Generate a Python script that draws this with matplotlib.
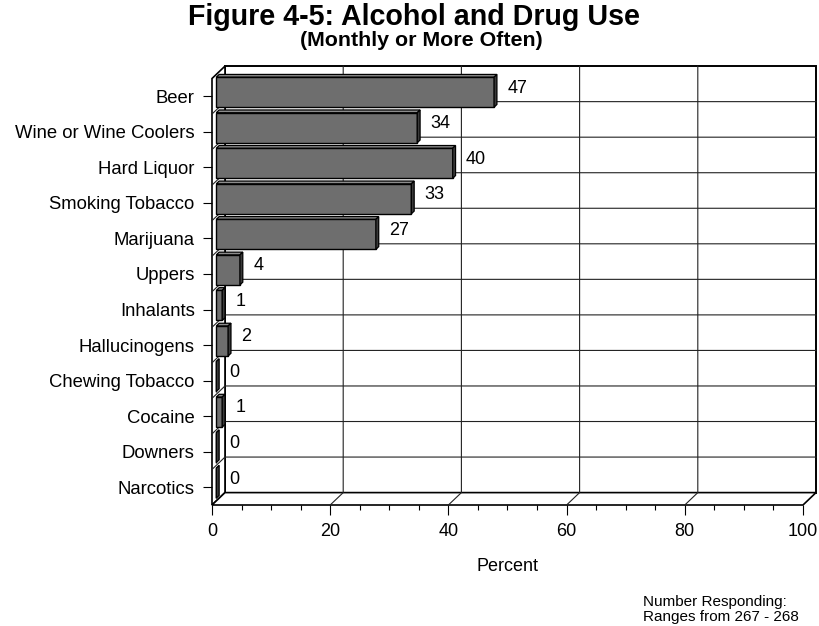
import matplotlib
matplotlib.use("Agg")
import matplotlib.pyplot as plt
from matplotlib.patches import Polygon
from matplotlib.ticker import MultipleLocator

plt.rcParams["font.family"] = ["Liberation Sans", "DejaVu Sans"]

# ---- data -------------------------------------------------------------
categories = ["Beer", "Wine or Wine Coolers", "Hard Liquor", "Smoking Tobacco",
              "Marijuana", "Uppers", "Inhalants", "Hallucinogens",
              "Chewing Tobacco", "Cocaine", "Downers", "Narcotics"]
percent = [47, 34, 40, 33, 27, 4, 1, 2, 0, 1, 0, 0]
x_ticks = [0, 20, 40, 60, 80, 100]

title = "Figure 4-5: Alcohol and Drug Use"
subtitle = "(Monthly or More Often)"
note = "Number Responding:\nRanges from 267 - 268"

# ---- figure / front plane of the 3-D box ------------------------------
FW, FH = 820, 626
fig = plt.figure(figsize=(FW / 100, FH / 100), dpi=100)
ax_l, ax_b, ax_w, ax_h = 212, 121, 591, 426.5          # pixels
ax = fig.add_axes([ax_l / FW, ax_b / FH, ax_w / FW, ax_h / FH])

n = len(categories)
xmax = x_ticks[-1]
ax.set_xlim(0, xmax)
ax.set_ylim(n - 0.5, -0.5)
y_top, y_bot = -0.5, n - 0.5

# oblique depth offset (pixels right / up) converted to data units
depth_px = (13.0, 12.4)
ddx = depth_px[0] / (ax_w / xmax)
ddy = -depth_px[1] / (ax_h / n)


def P(x, y, d):
    return (x + d * ddx, y + d * ddy)


def poly(pts, fc, ec="black", lw=1.0, z=1):
    ax.add_patch(Polygon(pts, closed=True, facecolor=fc, edgecolor=ec,
                         linewidth=lw, clip_on=False, zorder=z,
                         joinstyle="miter"))


def line(pts, color="#222222", lw=0.8, z=2):
    xs, ys = zip(*pts)
    ax.plot(xs, ys, color=color, lw=lw, clip_on=False, zorder=z,
            solid_joinstyle="miter")


# walls and floor
poly([P(0, y_top, 1), P(xmax, y_top, 1), P(xmax, y_bot, 1), P(0, y_bot, 1)],
     "white", lw=1.4)
poly([P(0, y_top, 0), P(0, y_top, 1), P(0, y_bot, 1), P(0, y_bot, 0)],
     "white", lw=1.2)
poly([P(0, y_bot, 0), P(xmax, y_bot, 0), P(xmax, y_bot, 1), P(0, y_bot, 1)],
     "white", lw=1.2)

# gridlines: category boundaries wrap the side wall and back wall
for k in range(1, n):
    b = k - 0.5
    line([P(0, b, 0), P(0, b, 1), P(xmax, b, 1)])
# value gridlines wrap the floor and back wall
for xt in x_ticks[1:-1]:
    line([P(xt, y_bot, 0), P(xt, y_bot, 1), P(xt, y_top, 1)])

# ---- 3-D bars --------------------------------------------------------
d0, d1 = 0.33, 0.55
half = 0.4225
face, top_c, side_c = "#6e6e6e", "#8c8c8c", "#3a3a3a"
ys = list(range(n))
ax.barh([y + d0 * ddy for y in ys], percent, left=d0 * ddx,
        height=2 * half, color=face, edgecolor="black", linewidth=1.0,
        zorder=5, clip_on=False)
for y, v in zip(ys, percent):
    ya, yb = y - half, y + half
    poly([P(0, ya, d0), P(v, ya, d0), P(v, ya, d1), P(0, ya, d1)],
         top_c, lw=0.9, z=4)
    poly([P(v, ya, d0), P(v, yb, d0), P(v, yb, d1), P(v, ya, d1)],
         side_c, lw=0.9, z=6)
    lx, ly = P(v, y, 0.5)
    ax.annotate(str(v), (lx, ly), xytext=(11, 2), textcoords="offset pixels",
                ha="left", va="center", fontsize=13, zorder=7,
                annotation_clip=False)

# ---- axes decoration --------------------------------------------------
for s in ax.spines.values():
    s.set_visible(False)
ax.set_yticks(ys)
ax.set_yticklabels(categories)
ax.set_xticks(x_ticks)
ax.xaxis.set_minor_locator(MultipleLocator(5))
ax.tick_params(axis="y", direction="out", length=6.5, width=0.8, pad=6,
               labelsize=13.3, colors="black")
ax.tick_params(axis="x", which="major", direction="out", length=7.2,
               width=0.8, pad=6, labelsize=13)
ax.tick_params(axis="x", which="minor", direction="out", length=3.6,
               width=0.8)
ax.set_xlabel("Percent", fontsize=13, labelpad=12.5)

fig.text(414 / FW, 1 - 25 / FH, title, ha="center", va="baseline",
         fontsize=20.6, fontweight="bold")
fig.text(421 / FW, 1 - 46 / FH, subtitle, ha="center", va="baseline",
         fontsize=15.4, fontweight="bold")
fig.text(643 / FW, 1 - 595 / FH, note, ha="left", va="top", fontsize=11,
         linespacing=1.05)

fig.savefig("out.png", dpi=100)
